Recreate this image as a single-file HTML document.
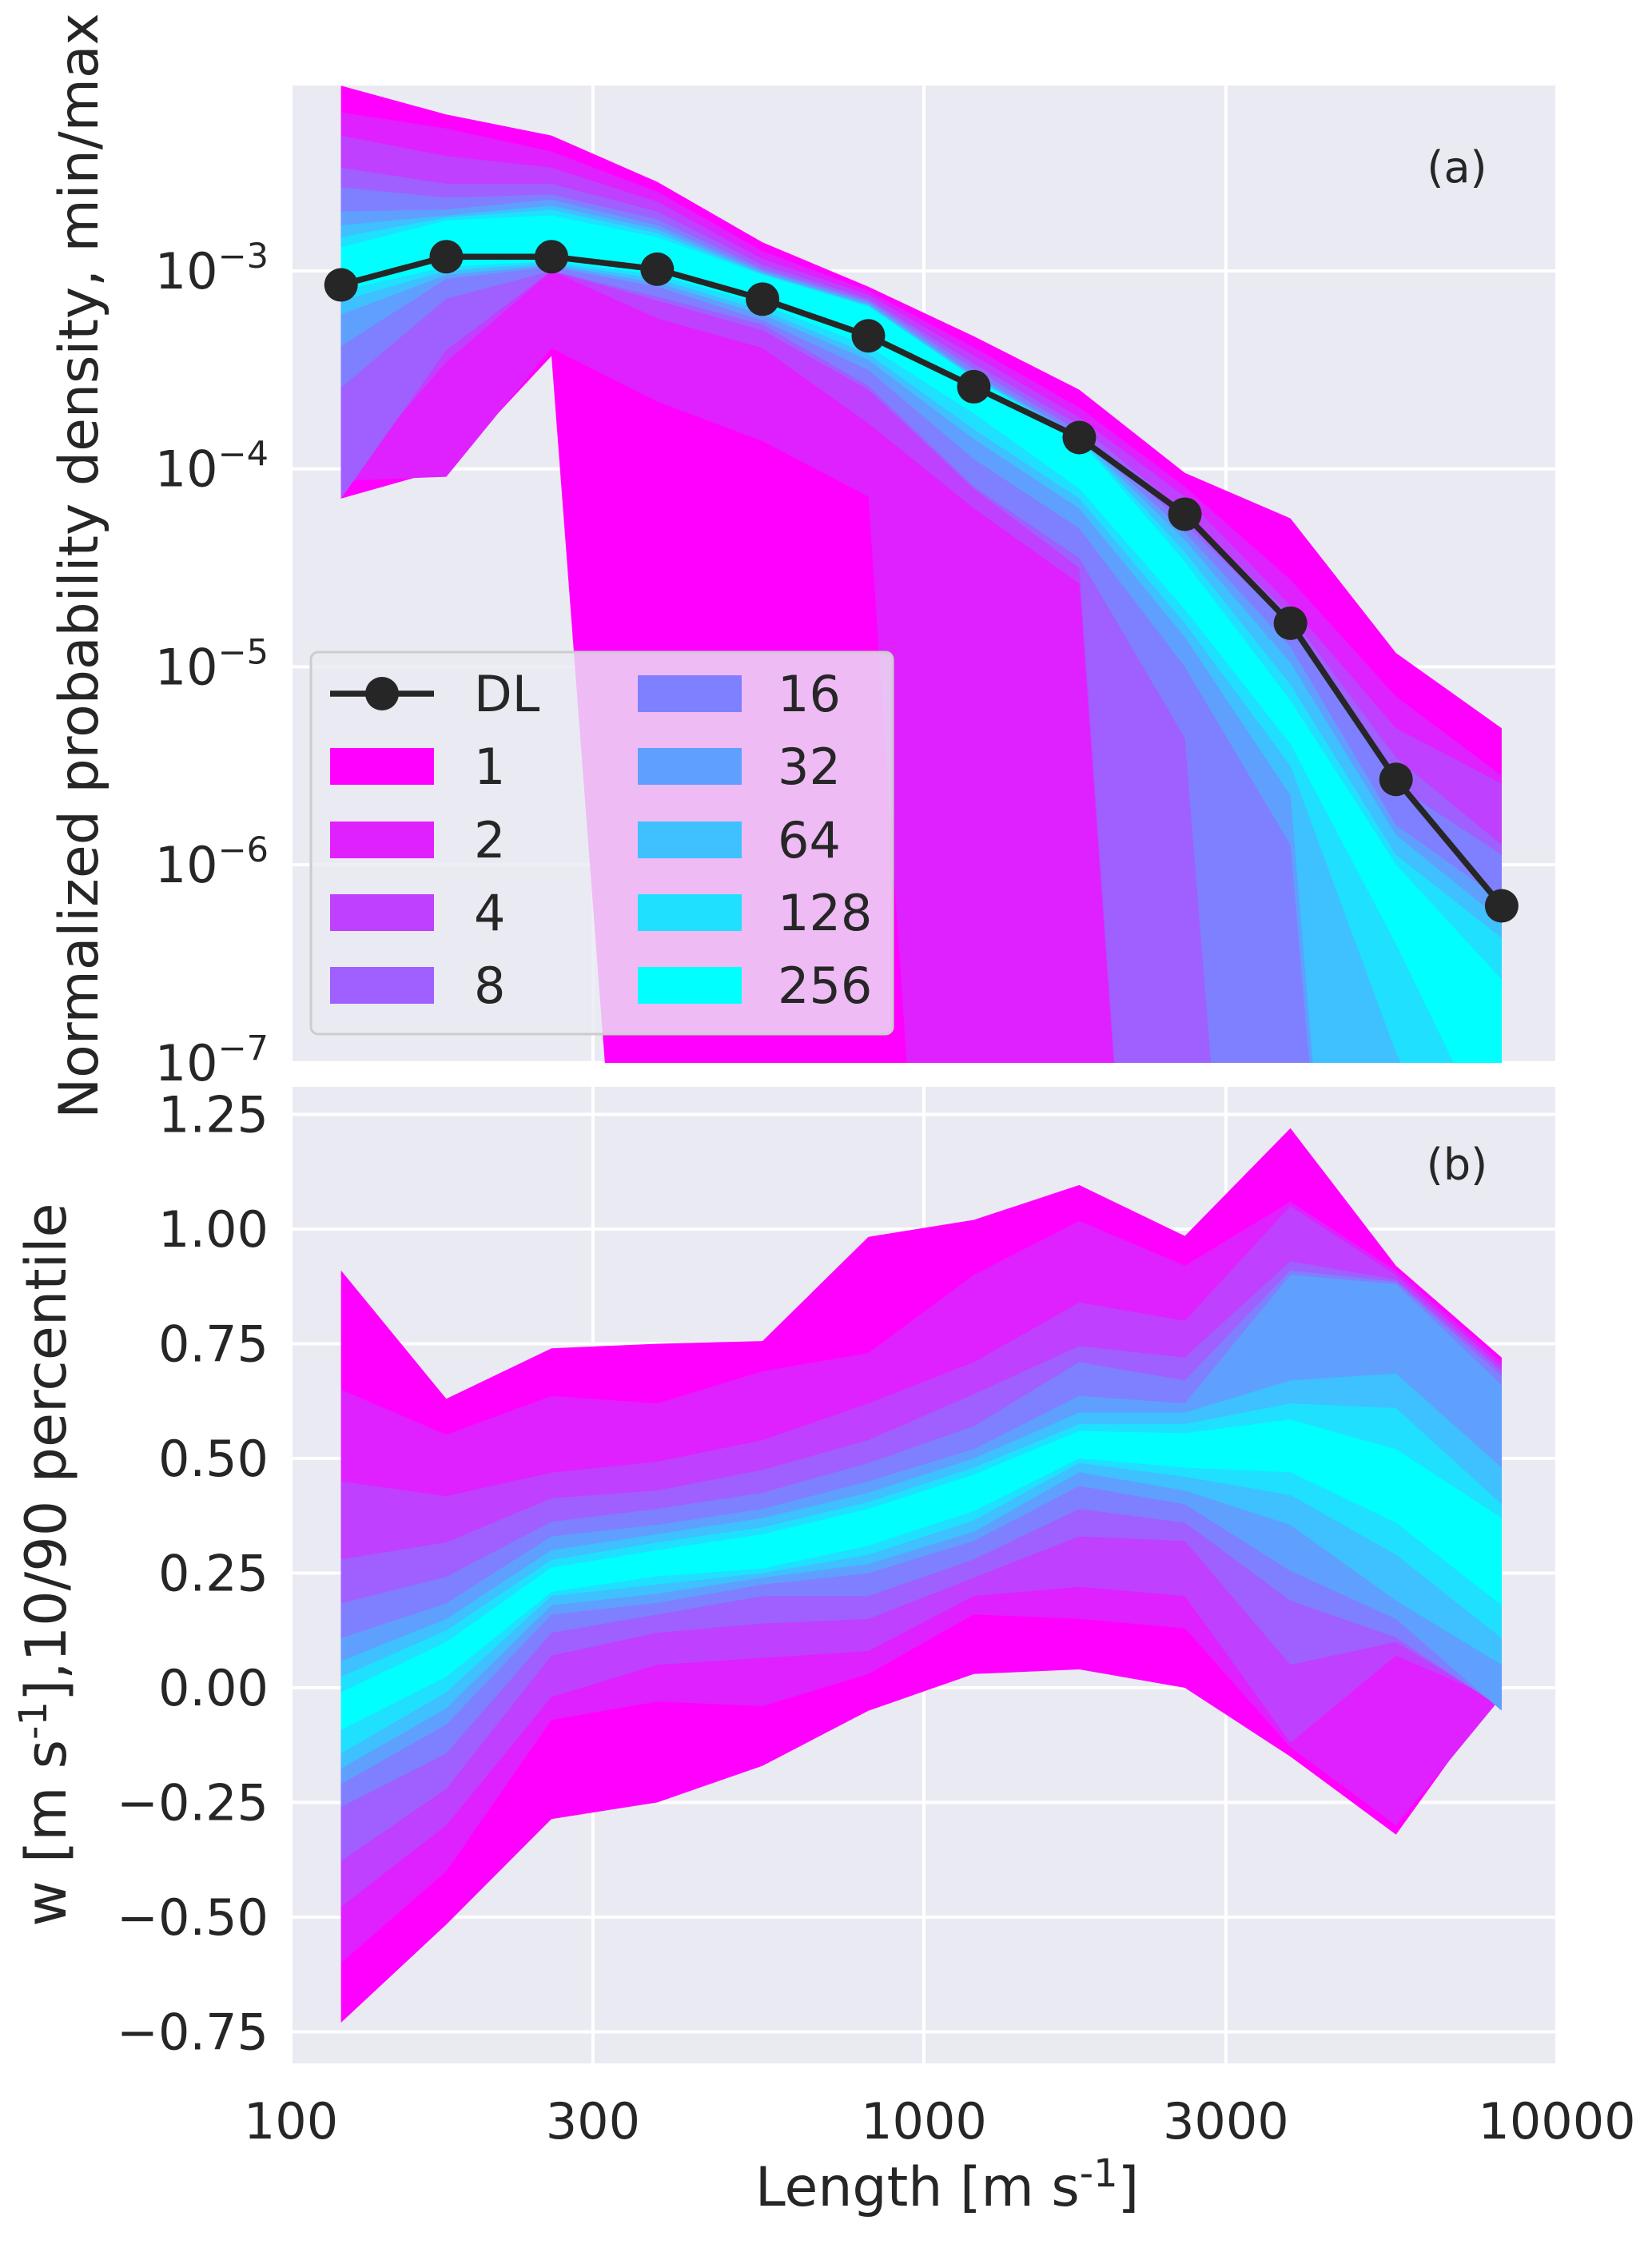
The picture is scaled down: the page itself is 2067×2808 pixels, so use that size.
<!DOCTYPE html>
<html><head><meta charset="utf-8">
<style>
html,body{margin:0;padding:0;background:#fff;}
svg{display:block;}
text{font-family:"DejaVu Sans","Liberation Sans",sans-serif;fill:#262626;}
</style></head>
<body>
<svg id="fig" xmlns="http://www.w3.org/2000/svg" width="2067" height="2808" viewBox="0 0 2067 2808">
<defs>
<clipPath id="clipA"><rect x="364" y="107" width="1584" height="1223"/></clipPath>
<clipPath id="clipB"><rect x="364" y="1360" width="1584" height="1222"/></clipPath>
</defs>
<rect x="364" y="107" width="1584" height="1223" fill="#eaeaf2"/>
<rect x="364" y="1360" width="1584" height="1222" fill="#eaeaf2"/>
<g id="gridA"></g>
<g id="gridB"></g>
<g id="bandsA" clip-path="url(#clipA)"></g>
<g id="bandsB" clip-path="url(#clipB)"></g>
<g id="dl"></g>
<g id="ticks"></g>
<text x="1823" y="228" font-size="54" text-anchor="middle">(a)</text>
<text x="1823" y="1476" font-size="54" text-anchor="middle">(b)</text>
<text x="1185" y="2760" font-size="68" text-anchor="middle">Length [m s<tspan dy="-24" font-size="48">-1</tspan><tspan dy="24">]</tspan></text>
<text transform="translate(122,708) rotate(-90)" font-size="68" text-anchor="middle">Normalized probability density, min/max</text>
<text transform="translate(82,1958) rotate(-90)" font-size="70" text-anchor="middle">w [m s<tspan dy="-24" font-size="48">-1</tspan><tspan dy="24">],10/90 percentile</tspan></text>
<g id="legend"></g>
</svg>
<script>
const NS="http://www.w3.org/2000/svg";
const lengths=[120,176,258,379,556,817,1199,1760,2584,3794,5570,8180];
const dlDensity=[8.5e-4,1.18e-3,1.18e-3,1.02e-3,7.2e-4,4.7e-4,2.6e-4,1.44e-4,5.9e-5,1.66e-5,2.7e-6,6.2e-7];
const levels=["1","2","4","8","16","32","64","128","256"];
const colors=["#ff00ff","#df20ff","#bf40ff","#9f60ff","#7f80ff","#5fa0ff","#3fc0ff","#1fe0ff","#00ffff"];
// panel a: log10 density, upper bounds per ensemble size
const aUp1=[-2.064,-2.21,-2.316,-2.55,-2.856,-3.08,-3.33,-3.60,-4.02,-4.25,-4.93,-5.31];
const aUp2=[-2.199,-2.28,-2.397,-2.60,-2.90,-3.10,-3.386,-3.69,-4.09,-4.56,-5.15,-5.55];
const aUp4=[-2.316,-2.42,-2.478,-2.65,-2.94,-3.12,-3.427,-3.74,-4.14,-4.69,-5.31,-5.59];
const aUp8=[-2.478,-2.56,-2.56,-2.70,-2.97,-3.14,-3.468,-3.78,-4.22,-4.74,-5.46,-5.90];
const aUp16=[-2.578,-2.63,-2.614,-2.74,-2.99,-3.15,-3.494,-3.81,-4.28,-4.79,-5.60,-5.95];
const aUp32=[-2.70,-2.69,-2.64,-2.77,-3.00,-3.16,-3.52,-3.83,-4.32,-4.90,-5.80,-6.18];
const aUp64=[-2.77,-2.72,-2.67,-2.79,-3.01,-3.17,-3.53,-3.84,-4.36,-4.98,-5.85,-6.28];
const aUp128=[-2.83,-2.73,-2.69,-2.81,-3.015,-3.175,-3.54,-3.845,-4.42,-5.09,-5.95,-6.37];
const aUp256=[-2.88,-2.745,-2.72,-2.83,-3.02,-3.18,-3.54,-3.85,-4.47,-5.17,-6.0,-6.58];
const aLo1=[-4.15,-4.0,-3.43,-10.5,-12,-12,-12,-12,-12,-12,-12,-12];
const aLo2=[-4.06,-4.04,-3.39,-3.66,-3.86,-4.14,-12,-12,-12,-12,-12,-12];
const aLo4=[-4.08,-3.46,-3.0,-3.24,-3.39,-3.77,-4.2,-4.58,-12,-12,-12,-12];
const aLo8=[-4.15,-3.40,-3.0,-3.15,-3.3,-3.6,-4.1,-4.5,-12,-12,-12,-12];
const aLo16=[-3.59,-3.14,-3.0,-3.13,-3.27,-3.58,-4.09,-4.45,-5.36,-12,-12,-12];
const aLo32=[-3.38,-3.04,-2.98,-3.08,-3.25,-3.5,-3.95,-4.3,-5.0,-5.9,-12,-12];
const aLo64=[-3.22,-3.02,-2.97,-3.06,-3.22,-3.45,-3.85,-4.2,-4.85,-5.65,-12,-12];
const aLo128=[-3.15,-3.0,-2.96,-3.04,-3.2,-3.42,-3.8,-4.15,-4.78,-5.5,-6.95,-8];
const aLo256=[-3.1,-2.98,-2.95,-3.02,-3.17,-3.38,-3.72,-4.1,-4.71,-5.39,-6.4,-7.5];
// panel b: w percentiles
const bUp1=[0.91,0.63,0.74,0.75,0.756,0.983,1.02,1.096,0.985,1.22,0.92,0.72];
const bUp2=[0.65,0.552,0.636,0.62,0.69,0.73,0.90,1.018,0.92,1.06,0.91,0.71];
const bUp4=[0.45,0.418,0.469,0.493,0.54,0.62,0.71,0.84,0.80,1.05,0.90,0.70];
const bUp8=[0.28,0.317,0.413,0.43,0.475,0.54,0.64,0.745,0.72,0.93,0.89,0.69];
const bUp16=[0.184,0.242,0.362,0.39,0.425,0.49,0.57,0.71,0.67,0.91,0.885,0.68];
const bUp32=[0.108,0.184,0.33,0.355,0.39,0.45,0.52,0.636,0.62,0.90,0.88,0.66];
const bUp64=[0.058,0.15,0.30,0.335,0.37,0.425,0.5,0.6,0.60,0.67,0.685,0.48];
const bUp128=[0.024,0.125,0.279,0.317,0.35,0.405,0.48,0.575,0.575,0.62,0.61,0.40];
const bUp256=[-0.01,0.10,0.262,0.30,0.335,0.39,0.465,0.56,0.555,0.585,0.52,0.37];
const bLo1=[-0.73,-0.516,-0.286,-0.25,-0.17,-0.05,0.03,0.04,0.0,-0.15,-0.32,0.0];
const bLo2=[-0.6,-0.40,-0.07,-0.03,-0.04,0.03,0.16,0.15,0.13,-0.13,-0.3,-0.02];
const bLo4=[-0.478,-0.30,-0.02,0.05,0.065,0.08,0.2,0.22,0.2,-0.12,0.07,-0.03];
const bLo8=[-0.378,-0.22,0.07,0.12,0.14,0.15,0.24,0.33,0.32,0.05,0.10,-0.04];
const bLo16=[-0.26,-0.143,0.12,0.16,0.2,0.2,0.28,0.39,0.36,0.19,0.11,-0.045];
const bLo32=[-0.21,-0.08,0.16,0.185,0.225,0.25,0.32,0.44,0.40,0.255,0.15,-0.05];
const bLo64=[-0.176,-0.045,0.18,0.205,0.24,0.27,0.34,0.47,0.43,0.355,0.19,0.05];
const bLo128=[-0.143,-0.01,0.2,0.225,0.25,0.29,0.365,0.49,0.46,0.42,0.29,0.108];
const bLo256=[-0.092,0.024,0.209,0.243,0.26,0.31,0.385,0.50,0.48,0.47,0.36,0.18];
const xTicks=[100,300,1000,3000,10000];
const aTickExp=[-3,-4,-5,-6,-7];
const bTicks=[1.25,1.00,0.75,0.50,0.25,0.00,-0.25,-0.50,-0.75];

const aUpper=[aUp1,aUp2,aUp4,aUp8,aUp16,aUp32,aUp64,aUp128,aUp256];
const aLower=[aLo1,aLo2,aLo4,aLo8,aLo16,aLo32,aLo64,aLo128,aLo256];
const bUpper=[bUp1,bUp2,bUp4,bUp8,bUp16,bUp32,bUp64,bUp128,bUp256];
const bLower=[bLo1,bLo2,bLo4,bLo8,bLo16,bLo32,bLo64,bLo128,bLo256];

function X(v){return 364+(Math.log10(v)-2)/2*1584;}
function YA(lg){return 339+(-3-lg)*247.7;}
function YB(v){return 2112-v*574;}
function mk(tag,parent){const e=document.createElementNS(NS,tag);parent.appendChild(e);return e;}

const gA=document.getElementById('gridA'),gB=document.getElementById('gridB');
xTicks.forEach(t=>{
  [[gA,107,1330],[gB,1360,2582]].forEach(([g,y0,y1])=>{
    const l=mk('line',g);
    
    
    l.setAttribute('x1',X(t));l.setAttribute('x2',X(t));l.setAttribute('y1',y0);l.setAttribute('y2',y1);
    l.setAttribute('stroke','#fff');l.setAttribute('stroke-width','4');
  });
});
aTickExp.forEach(e=>{
  const l=mk('line',gA);
  
  
  l.setAttribute('x1',364);l.setAttribute('x2',1948);l.setAttribute('y1',YA(e));l.setAttribute('y2',YA(e));
  l.setAttribute('stroke','#fff');l.setAttribute('stroke-width','4');
});
bTicks.forEach(v=>{
  const l=mk('line',gB);
  
  
  l.setAttribute('x1',364);l.setAttribute('x2',1948);l.setAttribute('y1',YB(v));l.setAttribute('y2',YB(v));
  l.setAttribute('stroke','#fff');l.setAttribute('stroke-width','4');
});

function band(g,up,lo,yf,color,name){
  let d='';
  lengths.forEach((x,i)=>{d+=(i?'L':'M')+X(x).toFixed(1)+','+yf(up[i]).toFixed(1);});
  for(let i=lengths.length-1;i>=0;i--){d+='L'+X(lengths[i]).toFixed(1)+','+yf(lo[i]).toFixed(1);}
  const p=mk('path',g);
  
  
  p.setAttribute('d',d+'Z');p.setAttribute('fill',color);
}
const bA=document.getElementById('bandsA'),bB=document.getElementById('bandsB');
levels.forEach((lv,k)=>{
  band(bA,aUpper[k],aLower[k],YA,colors[k],'band-a-'+lv);
  band(bB,bUpper[k],bLower[k],YB,colors[k],'band-b-'+lv);
});

const dl=document.getElementById('dl');
const pl=mk('polyline',dl);


pl.setAttribute('points',lengths.map((x,i)=>X(x).toFixed(1)+','+YA(Math.log10(dlDensity[i])).toFixed(1)).join(' '));
pl.setAttribute('fill','none');pl.setAttribute('stroke','#262626');pl.setAttribute('stroke-width','7.5');
lengths.forEach((x,i)=>{
  const c=mk('circle',dl);
  
  
  c.setAttribute('cx',X(x));c.setAttribute('cy',YA(Math.log10(dlDensity[i])));c.setAttribute('r',21);c.setAttribute('fill','#262626');
});

const tk=document.getElementById('ticks');
xTicks.forEach(t=>{
  const s=mk('text',tk);
  
  
  s.setAttribute('x',X(t));s.setAttribute('y',2676);s.setAttribute('font-size','62');s.setAttribute('text-anchor','middle');
  s.textContent=String(t);
});
aTickExp.forEach(e=>{
  const s=mk('text',tk);
  
  
  s.setAttribute('x',336);s.setAttribute('y',YA(e)+22);s.setAttribute('font-size','62');s.setAttribute('text-anchor','end');
  s.innerHTML='10<tspan dy="-26" font-size="43">\u2212'+Math.abs(e)+'</tspan>';
});
bTicks.forEach(v=>{
  const s=mk('text',tk);
  
  
  s.setAttribute('x',336);s.setAttribute('y',YB(v)+22);s.setAttribute('font-size','62');s.setAttribute('text-anchor','end');
  s.textContent=(v<0?'\u2212':'')+Math.abs(v).toFixed(2);
});

const lg=document.getElementById('legend');
const box=mk('rect',lg);


box.setAttribute('x',389);box.setAttribute('y',816);box.setAttribute('width',728);box.setAttribute('height',478);box.setAttribute('rx',9);
box.setAttribute('fill','#eaeaf2');box.setAttribute('fill-opacity','0.8');box.setAttribute('stroke','#cccccc');box.setAttribute('stroke-width','3');
const rowsY=[868,959,1051,1142,1233];
const entries=[{t:'DL'}].concat(levels.map((l,k)=>({t:l,c:colors[k]})));
entries.forEach((en,i)=>{
  const col=i<5?0:1,row=i%5;
  const hx=col?798:413,tx=col?973:593,cy=rowsY[row];
  const g=mk('g',lg);
  
  
  if(en.c){
    const r=mk('rect',g);
    r.setAttribute('x',hx);r.setAttribute('y',cy-23);r.setAttribute('width',130);r.setAttribute('height',46);r.setAttribute('fill',en.c);
  }else{
    const l=mk('line',g);
    l.setAttribute('x1',hx);l.setAttribute('x2',hx+130);l.setAttribute('y1',cy);l.setAttribute('y2',cy);l.setAttribute('stroke','#262626');l.setAttribute('stroke-width','7.5');
    const c=mk('circle',g);
    c.setAttribute('cx',hx+65);c.setAttribute('cy',cy);c.setAttribute('r',21);c.setAttribute('fill','#262626');
  }
  const s=mk('text',g);
  s.setAttribute('x',tx);s.setAttribute('y',cy+22);s.setAttribute('font-size','62');
  s.textContent=en.t;
});
</script>
</body></html>
